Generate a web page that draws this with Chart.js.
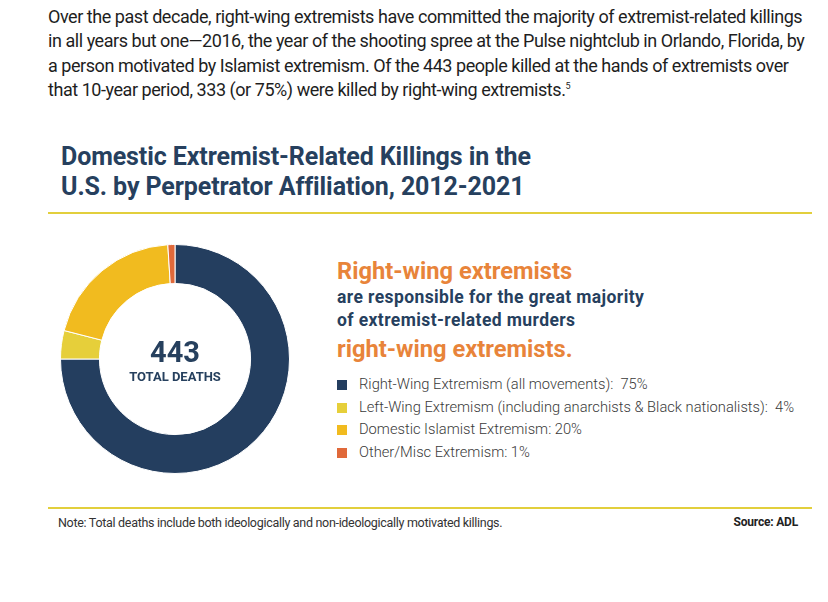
<!DOCTYPE html>
<html>
<head>
<meta charset="utf-8">
<script src="https://cdn.jsdelivr.net/npm/chart.js@4.4.1/dist/chart.umd.min.js"></script>
<style>
  html, body { margin: 0; padding: 0; background: #fff; }
  body { width: 828px; height: 602px; position: relative; overflow: hidden; font-family: Roboto, "Noto Sans", sans-serif; }
  .abs { position: absolute; white-space: nowrap; }
  #intro div { font-size: 18px; color: #1e1e1e; letter-spacing: -0.45px; height: 24.3px; line-height: 24.3px; }
  #intro sup { font-size: 9px; line-height: 0; vertical-align: 7px; }
  #title div { font-size: 25px; font-weight: 700; color: #26405e; letter-spacing: -0.1px; line-height: 30px; }
  .rule { position: absolute; left: 48px; width: 764px; height: 1.5px; background: #e2cf3c; }
  .big { font-size: 23.7px; font-weight: 700; color: #e8843a; }
  .mid { font-size: 17.5px; font-weight: 700; color: #26405e; letter-spacing: 0.4px; }
  #legend div { font-size: 14.7px; color: #3a3a3a; height: 22.7px; line-height: 22.7px; font-weight: 300; }
  #legend span.sw { display: inline-block; width: 10px; height: 10px; margin-right: 12px; vertical-align: -1px; }
  #center { position: absolute; left: 75px; width: 200px; text-align: center; color: #26405e; font-weight: 700; }
</style>
</head>
<body>
<div id="intro" class="abs" style="left:48px; top:5px;">
  <div>Over the past decade, right-wing extremists have committed the majority of extremist-related killings</div>
  <div>in all years but one—2016, the year of the shooting spree at the Pulse nightclub in Orlando, Florida, by</div>
  <div>a person motivated by Islamist extremism. Of the 443 people killed at the hands of extremists over</div>
  <div>that 10-year period, 333 (or 75%) were killed by right-wing extremists.<sup>5</sup></div>
</div>

<div id="title" class="abs" style="left:61px; top:142px;">
  <div>Domestic Extremist-Related Killings in the</div>
  <div>U.S. by Perpetrator Affiliation, 2012-2021</div>
</div>
<div class="rule" style="top:212px;"></div>

<div class="abs" style="left:60px; top:244px; width:230px; height:230px;">
  <canvas id="donut" width="230" height="230"></canvas>
</div>
<div id="center" style="top:336px;">
  <div style="font-size:29px; line-height:32px;">443</div>
  <div style="font-size:13px; line-height:18px;">TOTAL DEATHS</div>
</div>

<div class="abs big" style="left:337px; top:257px;">Right-wing extremists</div>
<div class="abs mid" style="left:337px; top:287px;">are responsible for the great majority</div>
<div class="abs mid" style="left:337px; top:310px;">of extremist-related murders</div>
<div class="abs big" style="left:337px; top:335px;">right-wing extremists.</div>

<div id="legend" class="abs" style="left:337px; top:373px;"></div>

<div class="rule" style="top:507px;"></div>
<div class="abs" style="left:58px; top:515px; font-size:12.5px; color:#333; letter-spacing:-0.3px;">Note: Total deaths include both ideologically and non-ideologically motivated killings.</div>
<div class="abs" style="right:30px; top:515px; font-size:12px; font-weight:700; color:#222; letter-spacing:-0.2px;">Source: ADL</div>

<script>
const categorias = [
  'Right-Wing Extremism (all movements)',
  'Left-Wing Extremism (including anarchists & Black nationalists)',
  'Domestic Islamist Extremism',
  'Other/Misc Extremism'
];
const percentuais = [75, 4, 20, 1];
const separadores = [':  ', ':  ', ': ', ': '];
const cores = ['#243e5f', '#e6cf3a', '#f1bb1f', '#e0693a'];

// legenda em HTML feita a partir dos mesmos arrays
const legenda = document.getElementById('legend');
categorias.forEach(function(cat, i) {
  const linha = document.createElement('div');
  const sw = document.createElement('span');
  sw.className = 'sw';
  sw.style.background = cores[i];
  linha.appendChild(sw);
  linha.appendChild(document.createTextNode(cat + separadores[i] + percentuais[i] + '%'));
  linha.style.whiteSpace = 'pre';
  legenda.appendChild(linha);
});

const ctx = document.getElementById('donut').getContext('2d');
new Chart(ctx, {
  type: 'doughnut',
  data: {
    labels: categorias,
    datasets: [{
      data: percentuais,
      backgroundColor: cores,
      borderColor: '#ffffff',
      borderWidth: 1
    }]
  },
  options: {
    responsive: false,
    animation: false,
    cutout: '66%',
    layout: { padding: 0 },
    plugins: {
      legend: { display: false },
      tooltip: { enabled: false }
    }
  }
});
</script>
</body>
</html>
